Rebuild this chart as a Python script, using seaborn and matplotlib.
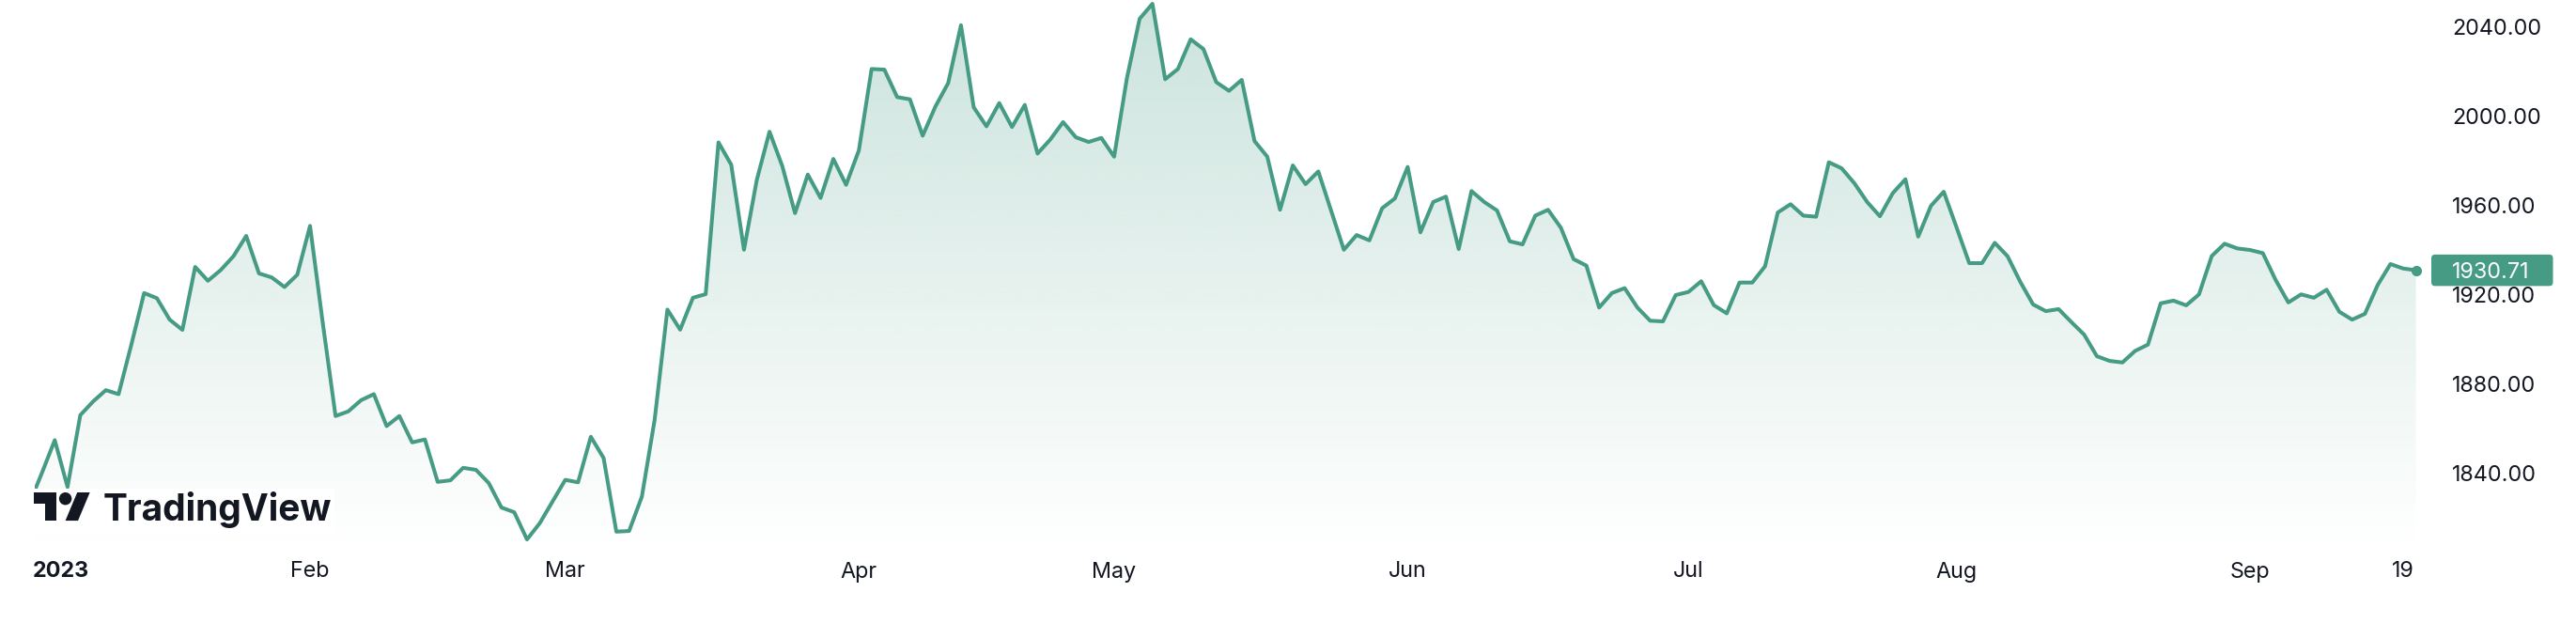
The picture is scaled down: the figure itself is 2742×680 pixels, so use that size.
import numpy as np
import pandas as pd
import matplotlib
matplotlib.use('Agg')
import matplotlib.pyplot as plt
import matplotlib.transforms as mtransforms
from matplotlib.patches import Polygon, Circle, FancyBboxPatch, Rectangle
import seaborn as sns

# daily closes, one list per month
dec = [1826.0]
jan = [1840.0, 1854.6, 1833.6, 1865.8, 1871.9, 1877.0, 1875.2, 1897.4, 1920.5, 1918.2,
       1908.6, 1904.0, 1932.2, 1926.0, 1930.8, 1937.0, 1946.1, 1929.3, 1927.5, 1923.2,
       1928.7]
feb = [1950.6, 1907.0, 1865.4, 1867.5, 1872.5, 1875.2, 1860.9, 1865.4, 1853.6, 1854.9,
       1835.9, 1836.6, 1842.2, 1841.3, 1835.4, 1824.4, 1822.3, 1810.1, 1817.4, 1827.1]
mar = [1836.8, 1835.7, 1856.1, 1846.6, 1813.6, 1813.9, 1829.3, 1863.7, 1913.1, 1904.1,
       1918.4, 1920.0, 1988.0, 1978.0, 1939.9, 1971.1, 1992.8, 1977.4, 1956.3, 1973.6,
       1963.1, 1980.6, 1969.0]
apr = [1984.4, 2020.9, 2020.6, 2008.3, 2007.3, 1991.0, 2004.1, 2014.6, 2040.5, 2003.7,
       1995.2, 2005.6, 1994.9, 2004.8, 1983.0, 1989.3, 1997.1, 1990.3, 1988.2, 1990.0]
may = [1981.6, 2016.7, 2043.4, 2050.1, 2016.3, 2020.9, 2034.2, 2029.8, 2015.0, 2011.1,
       2016.0, 1988.6, 1981.6, 1957.8, 1977.7, 1969.3, 1975.0, 1957.5, 1939.9, 1946.5,
       1944.1, 1958.5, 1962.9]
jun = [1977.0, 1947.7, 1961.3, 1963.7, 1940.2, 1966.2, 1961.3, 1957.5, 1943.7, 1942.3,
       1955.2, 1957.8, 1949.8, 1935.7, 1932.8, 1914.0, 1920.5, 1922.7, 1914.0, 1908.1,
       1907.8, 1919.6]
jul = [1921.0, 1925.8, 1915.0, 1911.4, 1925.2, 1925.2, 1932.5, 1956.6, 1960.3, 1955.2,
       1954.7, 1979.1, 1976.4, 1969.7, 1961.3, 1954.9, 1965.2, 1971.5, 1945.8, 1959.6,
       1965.9]
aug = [1950.0, 1933.9, 1933.9, 1943.0, 1937.0, 1925.5, 1915.4, 1912.4, 1913.3, 1907.5,
       1901.9, 1892.2, 1890.1, 1889.4, 1894.6, 1897.4, 1915.9, 1917.1, 1915.0, 1919.9,
       1937.1, 1942.6, 1940.5]
sep = [1939.8, 1938.4, 1926.4, 1916.3, 1919.9, 1918.4, 1922.0, 1912.1, 1908.6, 1911.2,
       1924.1, 1933.5, 1931.5, 1930.71]

month_labels = ['2023', 'Feb', 'Mar', 'Apr', 'May', 'Jun', 'Jul', 'Aug', 'Sep']
end_label = '19'
y_ticks = [1840, 1880, 1920, 1960, 2000, 2040]

dates = pd.DatetimeIndex(['2022-12-30']).append(pd.bdate_range('2023-01-03', '2023-09-20'))
price = dec + jan + feb + mar + apr + may + jun + jul + aug + sep
df = pd.DataFrame({'date': dates, 'price': price})
df['pos'] = np.arange(len(df))

sns.set_style('white')
plt.rcParams['font.family'] = ['Inter', 'DejaVu Sans']

W, H = 2742, 680
fig = plt.figure(figsize=(W / 100, H / 100), dpi=100)
ax = fig.add_axes([36.7 / W, 1 - 585 / H, (2590 - 36.7) / W, 585 / H])

green = '#459b83'
ink = '#131722'
ymin, ymax = 1805.5, 2051.8

sns.lineplot(data=df, x='pos', y='price', color=green, linewidth=2.9, ax=ax, zorder=3)

# vertical gradient under the line
poly = ax.fill_between(df['pos'], df['price'], ymin, facecolor='none', edgecolor='none')
grad = np.zeros((256, 1, 4))
grad[..., :3] = matplotlib.colors.to_rgb(green)
grad[:, 0, 3] = np.linspace(0.28, 0.0, 256)
im = ax.imshow(grad, extent=[0, df['pos'].iloc[-1], ymin, ymax], aspect='auto',
               origin='upper', zorder=1, interpolation='bilinear')
im.set_clip_path(poly.get_paths()[0], transform=ax.transData)

ax.plot(df['pos'].iloc[-1], df['price'].iloc[-1], 'o', color=green, ms=7, zorder=4)

ax.set_xlim(0.41, 188.35)
ax.set_ylim(ymin, ymax)
for s in ax.spines.values():
    s.set_visible(False)
ax.set_xlabel('')
ax.set_ylabel('')

# price scale on the right
ax.yaxis.tick_right()
ax.set_yticks(y_ticks)
ax.set_yticklabels([f'{v:.2f}' for v in y_ticks])
ax.tick_params(axis='y', length=0, pad=14.4, labelsize=16.8, labelcolor=ink)

# month labels on the first trading day of each month
d23 = df[df['date'].dt.year == 2023]
firsts = d23.groupby(d23['date'].dt.month)['pos'].first().tolist()
end_pos = df.loc[df['date'] == '2023-09-19', 'pos'].iloc[0]
ax.set_xticks(firsts + [end_pos])
ax.set_xticklabels(month_labels + [end_label])
ax.tick_params(axis='x', length=0, pad=9, labelsize=16.8, labelcolor=ink)
lbl0 = ax.get_xticklabels()[0]
lbl0.set_fontweight('bold')
lbl0.set_ha('left')
lbl0.set_transform(lbl0.get_transform() + mtransforms.ScaledTranslation(-0.10, 0, fig.dpi_scale_trans))

ident = mtransforms.IdentityTransform()

# TradingView watermark
fig.add_artist(Rectangle((33, H - 568), 323, 48, fc='white', ec='none', transform=ident, zorder=2))


def logo_pt(u, v):
    return (36 + 1.68 * u, H - (524 + 1.67 * (v - 4)))


fig.add_artist(Polygon([logo_pt(*p) for p in [(0, 4), (14, 4), (14, 22), (7, 22), (7, 11), (0, 11)]],
                       closed=True, fc=ink, ec='none', transform=ident, zorder=3))
cx, cy = logo_pt(20, 8)
fig.add_artist(Circle((cx, cy), 4 * 1.68, fc=ink, ec='none', transform=ident, zorder=3))
fig.add_artist(Polygon([logo_pt(*p) for p in [(27.5, 4), (35.5, 4), (28, 22), (20, 22)]],
                       closed=True, fc=ink, ec='none', transform=ident, zorder=3))
fig.text(110, H - 554, 'TradingView', transform=ident, fontsize=28, fontweight='bold',
         color=ink, va='baseline', ha='left', zorder=4)

# last price tag
lx, ly = ax.transData.transform((df['pos'].iloc[-1], df['price'].iloc[-1]))
fig.add_artist(FancyBboxPatch((2588, ly - 16.75), 129.5, 33.5, boxstyle='round,pad=0,rounding_size=4',
                              fc=green, ec='none', transform=ident, zorder=5))
fig.text(2610, ly, f"{df['price'].iloc[-1]:.2f}", transform=ident, color='white', fontsize=16.8,
         va='center_baseline', ha='left', zorder=6)

fig.savefig('out.png', dpi=100, facecolor='white')
